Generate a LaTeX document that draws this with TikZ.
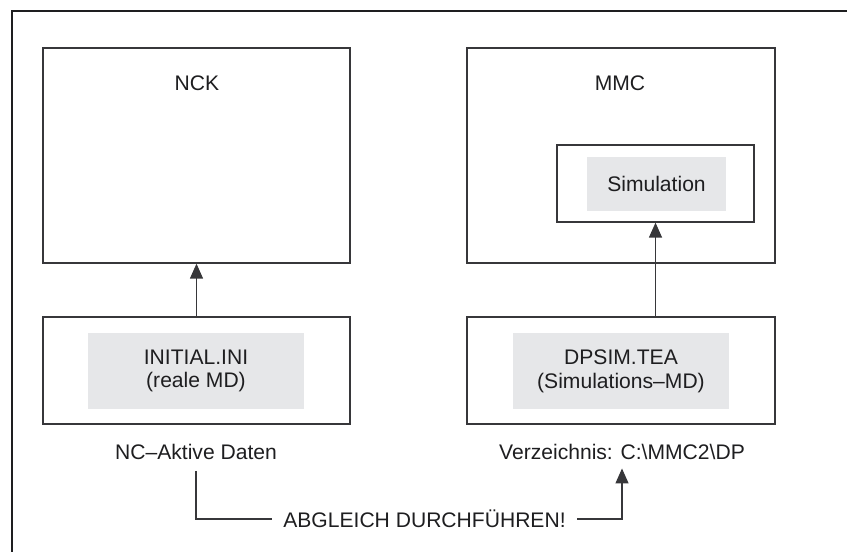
\documentclass[tikz,border=0pt]{standalone}
\usepackage{fontspec}
\setmainfont{Liberation Sans}
\usepackage{xcolor}
\definecolor{mmline}{RGB}{55,55,58}
\definecolor{mmtext}{RGB}{30,30,32}
\definecolor{mmgray}{RGB}{230,231,233}
\usetikzlibrary{arrows.meta, positioning}

\tikzset{
  txt/.style={font=\fontsize{12}{13.5}\selectfont, text=mmtext, align=center},
  unit/.style={draw=mmline, line width=0.75pt, fill=white, inner sep=0pt},
  file/.style={txt, fill=mmgray, inner sep=0pt},
  flow/.style={draw=mmline, line width=0.75pt, -{Triangle[length=3mm,width=2.6mm]}},
  wire/.style={draw=mmline, line width=0.75pt}
}

\begin{document}
\begin{tikzpicture}
  \useasboundingbox (0,0) rectangle (16.94,11.02);
  % Frame (open towards right and bottom)
  \draw[line width=1.3pt, mmtext] (0.24,-0.1) -- (0.24,10.8) -- (17.1,10.8);

  % --- Upper units ---
  \node[unit, minimum width=6.14cm, minimum height=4.30cm] (nck) at (3.93,7.91) {};
  \node[txt] (ncklbl) at (3.94,9.36) {NCK};
  \node[unit, minimum width=6.16cm, minimum height=4.30cm] (mmc) at (12.42,7.91) {};
  \node[txt] (mmclbl) at (12.40,9.36) {MMC};
  \node[unit, minimum width=3.94cm, minimum height=1.54cm] (sim) at (13.11,7.35) {};
  \node[file, minimum width=2.78cm, minimum height=1.08cm] (simtxt) at (13.13,7.34) {Simulation};

  % --- Data files ---
  \node[unit, minimum width=6.14cm, minimum height=2.14cm] (initial) at (3.93,3.61) {};
  \node[file, minimum width=4.32cm, minimum height=1.52cm] (initxt) at (3.92,3.60)
       {INITIAL.INI\\(reale MD)};
  \node[unit, minimum width=6.16cm, minimum height=2.14cm] (dpsim) at (12.42,3.61) {};
  \node[file, minimum width=4.32cm, minimum height=1.52cm] (dpsimtxt) at (12.42,3.60)
       {DPSIM.TEA\\(Simulations--MD)};

  % Loading arrows
  \draw[flow] (initial.north) -- (nck.south);
  \draw[flow] (dpsim.north -| sim.south) -- (sim.south);

  % --- Captions and comparison ---
  \node[txt] (ncdaten) at (3.92,1.98) {NC--Aktive Daten};
  \node[txt] (verz) at (12.44,1.98) {Verzeichnis: C:\textbackslash MMC2\textbackslash DP};
  \node[txt, inner xsep=2.2mm] (abgleich) at (8.49,0.64) {ABGLEICH DURCHFÜHREN!};
  \draw[wire] ([yshift=-1mm]ncdaten.south) -- (ncdaten.south |- abgleich.west) -- (abgleich.west);
  \draw[flow] (abgleich.east) -- (verz.south |- abgleich.east) -- ([yshift=-0.5mm]verz.south);
\end{tikzpicture}
\end{document}
